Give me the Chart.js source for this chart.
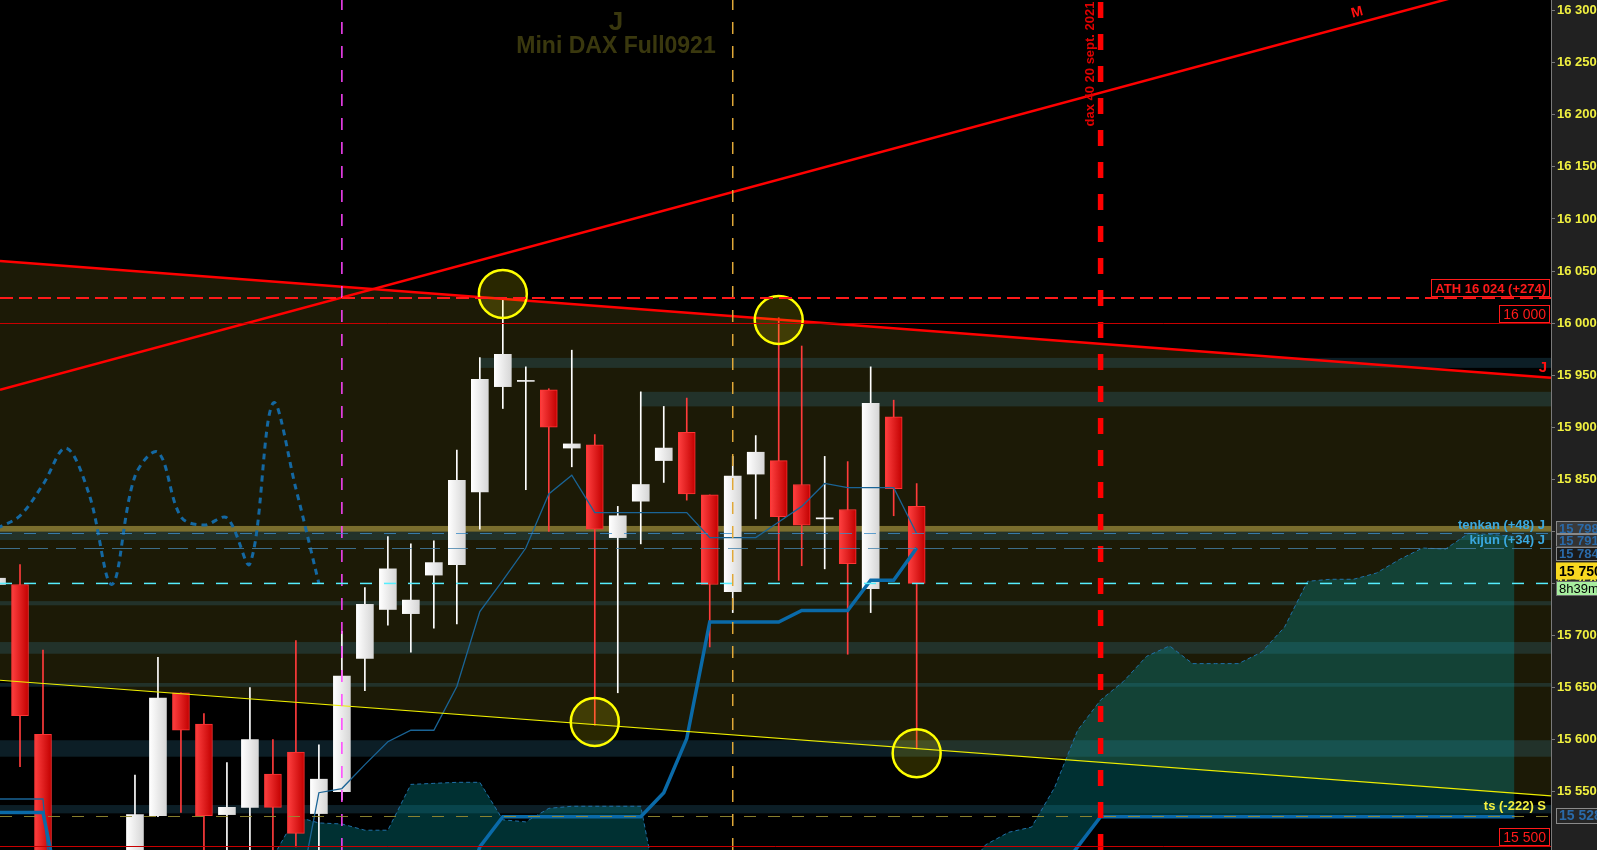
<!DOCTYPE html>
<html>
<head>
<meta charset="utf-8">
<title>Mini DAX Full0921</title>
<script src="https://cdn.jsdelivr.net/npm/chart.js@4.4.1/dist/chart.umd.min.js"></script>
<style>
    html, body { margin: 0; padding: 0; background: #212121; overflow: hidden; }
    canvas { display: block; }
</style>
</head>
<body>
<canvas id="chart" width="1597" height="850"></canvas>
<script>
// ---- data ----
// candle index, 0 = first full candle on the left edge
const candleIdx = [-1, 0, 1, 2, 3, 4, 5, 6, 7, 8, 9, 10, 11, 12, 13, 14, 15, 16, 17, 18, 19,
    20, 21, 22, 23, 24, 25, 26, 27, 28, 29, 30, 31, 32, 33, 34, 35, 36, 37, 38, 39];
const opens  = [15749, 15749, 15605, 15460, 15420, 15455, 15440, 15527, 15645, 15615, 15528, 15535, 15567, 15588, 15529, 15550, 15678, 15725, 15721, 15758, 15768,
    15838, 15939, 15944, 15936, 15880, 15883, 15794, 15829, 15868, 15895, 15835, 15742, 15855, 15868, 15845, 15812, 15821, 15745, 15910, 15824];
const highs  = [15756, 15768, 15686, 15485, 15470, 15480, 15566, 15679, 15645, 15625, 15578, 15650, 15600, 15695, 15595, 15704, 15746, 15795, 15788, 15791, 15878,
    15967, 16024, 15958, 15937, 15974, 15893, 15824, 15934, 15920, 15928, 15835, 15872, 15892, 16005, 15978, 15872, 15867, 15958, 15926, 15846];
const lows   = [15745, 15574, 15430, 15400, 15390, 15410, 15425, 15526, 15530, 15480, 15470, 15480, 15485, 15497, 15480, 15542, 15647, 15710, 15684, 15707, 15711,
    15802, 15918, 15840, 15800, 15862, 15614, 15645, 15788, 15847, 15830, 15689, 15722, 15812, 15753, 15767, 15764, 15682, 15722, 15815, 15591];
const closes = [15755, 15623, 15460, 15420, 15455, 15440, 15528, 15640, 15609, 15527, 15535, 15600, 15535, 15510, 15562, 15661, 15730, 15764, 15734, 15770, 15849,
    15946, 15970, 15945, 15900, 15884, 15802, 15815, 15845, 15880, 15836, 15749, 15853, 15876, 15814, 15806, 15813, 15769, 15923, 15841, 15750];

// ichimoku
const tenkan = [15543, 15543, 15543, 15300, 15300, 15300, 15310, 15320, 15330, 15340, 15350, 15360, 15380, 15434, 15549, 15553, 15576, 15598, 15609, 15609, 15651,
    15723, 15753, 15784, 15836, 15854, 15818, 15818, 15818, 15818, 15818, 15794, 15794, 15794, 15809, 15824, 15846, 15842, 15842, 15842, 15798];
const kijun  = [15530, 15530, 15530, 15420, 15400, 15400, 15400, 15400, 15400, 15400, 15400, 15400, 15400, 15400, 15400, 15400, 15400, 15400, 15400, 15400, 15430,
    15497, 15526, 15526, 15526, 15526, 15526, 15526, 15526, 15549, 15601, 15713, 15713, 15713, 15713, 15724, 15724, 15724, 15753, 15753, 15784];
const chikouIdx = [-1, 0, 1, 2, 3, 4, 5, 6, 7, 8, 9, 10, 11, 12, 13];
const chikou = [15803, 15815, 15845, 15880, 15836, 15749, 15853, 15876, 15814, 15806, 15813, 15769, 15923, 15841, 15750];
const cloudIdx = [10, 11, 12, 13, 14, 15, 16, 17, 18, 19, 20, 21, 22, 23, 24, 25, 26, 27, 28, 29, 30, 31, 32, 33, 34, 35, 36, 37,
    38, 39, 40, 41, 42, 43, 44, 45, 46, 47, 48, 49, 50, 51, 52, 53, 54, 55, 56, 57, 58, 59, 60, 61, 62, 63, 64, 65];
const spanA = [15440, 15487, 15526, 15520, 15519, 15513, 15513, 15557, 15558, 15559, 15559, 15523, 15521, 15534, 15536, 15536, 15536, 15536, 15423, 15400, 15390, 15380, 15380, 15380, 15380, 15380, 15380, 15380,
    15380, 15390, 15420, 15470, 15499, 15511, 15516, 15554, 15609, 15638, 15656, 15680, 15690, 15673, 15673, 15673, 15684, 15708, 15752, 15754, 15754, 15760, 15773, 15784, 15783, 15798, 15797, 15795];
const spanB = [15370, 15370, 15370, 15370, 15370, 15370, 15370, 15370, 15370, 15370, 15370, 15370, 15370, 15370, 15370, 15370, 15370, 15370, 15370, 15370, 15370, 15370, 15370, 15370, 15370, 15370, 15370, 15370,
    15370, 15370, 15370, 15370, 15370, 15370, 15370, 15468, 15497, 15526, 15526, 15526, 15526, 15526, 15526, 15526, 15526, 15526, 15526, 15526, 15526, 15526, 15526, 15526, 15526, 15526, 15526, 15526];

// drawn objects: trend lines (two ends each), verticals, circles
const X_MIN = -0.87, X_MAX = 66.59;
const Y_MIN = 15494, Y_MAX = 16310.3;
const trendX = [X_MIN, X_MAX];
const trendM = [15936, 16338];
const trendJ = [16059.6, 15947.6];
const trendS = [15657, 15545.9];
const vLines = [14, 31, 47];
const circleIdx = [21, 33, 25, 39];
const circleVal = [16028, 16003, 15617, 15587];

// horizontal zones and levels
const bandFrom = [20, 27, X_MIN, X_MIN, X_MIN, X_MIN, X_MIN, X_MIN, X_MIN];
const bandLow  = [15957, 15920, 15799.7, 15791.7, 15729, 15682.5, 15650.8, 15583.6, 15529.2];
const bandHigh = [15966.6, 15934, 15805.2, 15799.7, 15733, 15693.7, 15654.4, 15599.4, 15537.2];
const levelVals = [16024, 16000, 15798, 15784, 15750, 15527, 15498];
const yTicks = [15550, 15600, 15650, 15700, 15750, 15800, 15850, 15900, 15950, 16000, 16050, 16100, 16150, 16200, 16250, 16300];

const ath = 16024;
const lastClose = 15750;
const tenkanNow = 15798, kijunNow = 15784, tsNow = 15528;
const axisTags = [15798, 15791, 15784, 15750, 15528];

// ---- styles ----
const FONT = "'Liberation Sans', Arial, sans-serif";
const BAND_COLOR = ['rgba(60,150,190,0.2)', 'rgba(60,150,190,0.2)', 'rgba(200,180,80,0.55)', 'rgba(60,150,190,0.2)',
    'rgba(60,150,190,0.2)', 'rgba(60,150,190,0.2)', 'rgba(60,150,190,0.2)', 'rgba(60,150,190,0.2)', 'rgba(60,150,190,0.2)'];
const LEVEL_STYLE = [
    { color: '#ff1a1a', width: 2, dash: [13, 6] },
    { color: '#c80000', width: 1, dash: [] },
    { color: 'rgba(60,140,200,0.8)', width: 1, dash: [12, 12] },
    { color: 'rgba(70,130,170,0.8)', width: 1, dash: [20, 8] },
    { color: '#55eeff', width: 1.5, dash: [12, 12] },
    { color: 'rgba(150,140,50,0.9)', width: 1, dash: [12, 12] },
    { color: '#c80000', width: 1, dash: [] }
];
const V_STYLE = [
    { color: '#ff44ff', width: 1.5, dash: [12, 12] },
    { color: '#e0a838', width: 1.5, dash: [12, 12] },
    { color: '#ff0000', width: 5.5, dash: [16, 16] }
];

const fmt = v => String(v).replace(/\B(?=(\d{3})+(?!\d))/g, ' ');
const pts = (xs, ys) => xs.map((x, i) => ({ x: x, y: ys[i] }));
const isUp = i => closes[i] >= opens[i];

// gradient body like the platform draws
const bodyFill = (c) => {
    if (c.type !== 'data') return '#ffffff';
    const i = c.dataIndex;
    const xs = c.chart.scales.x;
    const px = xs ? xs.getPixelForValue(candleIdx[i]) : NaN;
    if (!Number.isFinite(px)) return isUp(i) ? '#f2f2f2' : '#e01e1e';
    const g = c.chart.ctx.createLinearGradient(px - 8.5, 0, px + 8.5, 0);
    if (isUp(i)) {
        g.addColorStop(0, '#ffffff');
        g.addColorStop(1, '#d6d6d6');
    } else {
        g.addColorStop(0, '#ff4040');
        g.addColorStop(1, '#c20000');
    }
    return g;
};

const lineAt = (ys, idx) => ys[0] + (ys[1] - ys[0]) * (idx - trendX[0]) / (trendX[1] - trendX[0]);

const drawBands = (chart) => {
    const { ctx, chartArea: a, scales: { x, y } } = chart;
    ctx.save();
    ctx.beginPath();
    ctx.rect(a.left, a.top, a.right - a.left, a.bottom - a.top);
    ctx.clip();
    bandLow.forEach((lo, i) => {
        const y1 = y.getPixelForValue(bandHigh[i]);
        const y2 = y.getPixelForValue(lo);
        const x1 = Math.max(a.left, x.getPixelForValue(bandFrom[i]));
        ctx.fillStyle = BAND_COLOR[i];
        ctx.fillRect(x1, y1, a.right - x1, y2 - y1);
    });
    ctx.restore();
};

const boxLabel = (ctx, text, right, bottom, opts) => {
    ctx.font = opts.font;
    const w = ctx.measureText(text).width + 8;
    const h = 18;
    ctx.fillStyle = '#000';
    ctx.fillRect(right - w, bottom - h, w, h);
    ctx.strokeStyle = opts.color;
    ctx.lineWidth = 1;
    ctx.strokeRect(Math.round(right - w) + 0.5, Math.round(bottom - h) + 0.5, Math.round(w) - 1, h - 1);
    ctx.fillStyle = opts.color;
    ctx.textAlign = 'left';
    ctx.textBaseline = 'middle';
    ctx.fillText(text, right - w + 4, bottom - h / 2 + 1);
};

const decor = {
    id: 'decor',
    beforeDraw(chart) {
        const { ctx, chartArea: a } = chart;
        ctx.save();
        ctx.fillStyle = '#212121';
        ctx.fillRect(0, 0, chart.width, chart.height);
        ctx.fillStyle = '#000';
        ctx.fillRect(a.left, a.top, a.right - a.left, a.bottom - a.top);
        ctx.restore();
    },
    afterDatasetDraw(chart, args) {
        if (args.index === 0) drawBands(chart); // zones just over the channel fill
    },
    afterDatasetsDraw(chart) {
        const { ctx, chartArea: a, scales: { x, y } } = chart;
        ctx.save();
        ctx.beginPath();
        ctx.rect(a.left, a.top, a.right - a.left, a.bottom - a.top);
        ctx.clip();

        // horizontal levels
        levelVals.forEach((v, i) => {
            const s = LEVEL_STYLE[i];
            let py = y.getPixelForValue(v);
            if (s.width === 1) py = Math.round(py) + 0.5;
            ctx.strokeStyle = s.color;
            ctx.lineWidth = s.width;
            ctx.setLineDash(s.dash);
            ctx.beginPath();
            ctx.moveTo(a.left, py);
            ctx.lineTo(a.right, py);
            ctx.stroke();
        });
        ctx.setLineDash([]);

        // title
        ctx.fillStyle = '#3a380e';
        ctx.textAlign = 'center';
        ctx.textBaseline = 'alphabetic';
        ctx.font = 'bold 26px ' + FONT;
        ctx.fillText('J', 616, 30);
        ctx.font = 'bold 23px ' + FONT;
        ctx.fillText('Mini DAX Full0921', 616, 53);

        // M marker on the rising line
        const mIdx = x.getValueForPixel(1357);
        const mY = y.getPixelForValue(lineAt(trendM, mIdx)) - 11;
        ctx.save();
        ctx.translate(1357, mY);
        ctx.rotate(-0.265);
        ctx.fillStyle = '#ff1010';
        ctx.font = 'bold 14px ' + FONT;
        ctx.textAlign = 'center';
        ctx.textBaseline = 'middle';
        ctx.fillText('M', 0, 0);
        ctx.restore();

        // vertical date text
        ctx.save();
        ctx.translate(x.getPixelForValue(vLines[2]) - 10, 64);
        ctx.rotate(-Math.PI / 2);
        ctx.fillStyle = '#e00000';
        ctx.font = 'bold 13px ' + FONT;
        ctx.textAlign = 'center';
        ctx.textBaseline = 'middle';
        ctx.fillText('dax 40 20 sept. 2021', 0, 0);
        ctx.restore();

        // J marker at the right end of the falling line
        ctx.fillStyle = '#ff1010';
        ctx.font = 'bold 15px ' + FONT;
        ctx.textAlign = 'center';
        ctx.textBaseline = 'middle';
        ctx.fillText('J', 1543, y.getPixelForValue(trendJ[1]) - 10);

        // boxed levels on the right of the plot
        const r = a.right - 1;
        boxLabel(ctx, 'ATH ' + fmt(ath) + ' (+' + (ath - lastClose) + ')', r, y.getPixelForValue(levelVals[0]) - 1,
            { font: 'bold 13px ' + FONT, color: '#ff1a1a' });
        boxLabel(ctx, fmt(levelVals[1]), r, y.getPixelForValue(levelVals[1]),
            { font: '14px ' + FONT, color: '#ff1a1a' });
        boxLabel(ctx, fmt(15500), r, y.getPixelForValue(levelVals[6]),
            { font: '14px ' + FONT, color: '#ff1a1a' });

        // ichimoku tags
        ctx.textAlign = 'right';
        ctx.textBaseline = 'middle';
        ctx.font = 'bold 13px ' + FONT;
        ctx.fillStyle = '#3aa8e0';
        ctx.fillText('tenkan (+' + (tenkanNow - lastClose) + ') J', 1545, y.getPixelForValue(tenkanNow) - 8);
        ctx.fillText('kijun (+' + (kijunNow - lastClose) + ') J', 1545, y.getPixelForValue(kijunNow) - 8);
        ctx.fillStyle = '#f4f040';
        ctx.fillText('ts (' + (tsNow - lastClose) + ') S', 1546, y.getPixelForValue(tsNow) - 8);
        ctx.restore();
    },
    afterDraw(chart) {
        const { ctx, chartArea: a, scales: { y } } = chart;
        const left = a.right + 5;
        const tag = (text, cy, h, bg, border, color, font) => {
            ctx.fillStyle = bg;
            ctx.fillRect(left, cy - h / 2, 60, h);
            if (border) {
                ctx.strokeStyle = border;
                ctx.lineWidth = 1;
                ctx.strokeRect(left + 0.5, Math.round(cy - h / 2) + 0.5, 60, h - 1);
            }
            ctx.fillStyle = color;
            ctx.font = font;
            ctx.textAlign = 'left';
            ctx.textBaseline = 'middle';
            ctx.fillText(text, left + 3, cy + 1);
        };
        ctx.save();
        const bold = 'bold 13px ' + FONT;
        tag(fmt(axisTags[0]), y.getPixelForValue(axisTags[0]) - 5.5, 13, '#3a3a3a', '#8a8a8a', '#2a6aa8', bold);
        tag(fmt(axisTags[1]), y.getPixelForValue(axisTags[1]), 13, '#333333', '#8a8a8a', '#2a6aa8', bold);
        tag(fmt(axisTags[2]), y.getPixelForValue(axisTags[2]) + 5.5, 14, '#1a1a1a', '#8a8a8a', '#2a6aa8', bold);
        const cy = y.getPixelForValue(axisTags[3]);
        tag(fmt(axisTags[3]), cy - 12.5, 17, '#f8d820', null, '#000', 'bold 14px ' + FONT);
        tag('8h39m', cy + 5, 15, '#a8eea0', '#6a6a6a', '#000', '13px ' + FONT);
        tag(fmt(axisTags[4]), y.getPixelForValue(axisTags[4]) + 1, 16, '#262626', '#8a8a8a', '#2a6aa8', 'bold 14px ' + FONT);
        ctx.restore();
    }
};

const datasets = [
    // olive channel between the falling red line and the yellow line
    { type: 'line', label: 'channel', data: pts(trendX, trendJ), borderWidth: 0, pointRadius: 0,
      fill: '+1', backgroundColor: 'rgba(112,104,22,0.25)', order: 100 },
    { type: 'line', label: 'channel-low', data: pts(trendX, trendS), borderWidth: 0, pointRadius: 0,
      fill: false, order: 99 },
    // kumo
    { type: 'line', label: 'senkou A', data: pts(cloudIdx, spanA), borderColor: '#1f70a8', borderWidth: 1,
      borderDash: [4, 3], pointRadius: 0, fill: '+1', backgroundColor: 'rgba(0,160,165,0.3)', order: 90 },
    { type: 'line', label: 'senkou B', data: pts(cloudIdx, spanB), borderColor: '#0a68a8', borderWidth: 3.5,
      pointRadius: 0, fill: false, order: 89 },
    // candles
    { type: 'bar', label: 'wicks', data: candleIdx.map((x, i) => ({ x: x, y: [lows[i], highs[i]] })),
      barThickness: 1, grouped: false, borderWidth: 0,
      backgroundColor: candleIdx.map((x, i) => isUp(i) ? '#ffffff' : '#ff3b3b'), order: 60 },
    { type: 'bar', label: 'bodies', data: candleIdx.map((x, i) => ({ x: x, y: [opens[i], closes[i]] })),
      barThickness: 17, grouped: false, borderSkipped: false,
      backgroundColor: bodyFill,
      borderColor: (c) => (c.type === 'data' && !isUp(c.dataIndex)) ? '#ff3535' : 'rgba(0,0,0,0)',
      borderWidth: (c) => (c.type === 'data' && !isUp(c.dataIndex)) ? 1 : 0, order: 59 },
    // ichimoku lines
    { type: 'line', label: 'chikou', data: pts(chikouIdx, chikou), borderColor: '#1468a2', borderWidth: 3,
      borderDash: [6, 5], tension: 0.35, pointRadius: 0, fill: false, order: 55 },
    { type: 'line', label: 'tenkan', data: pts(candleIdx, tenkan), borderColor: '#1a6496', borderWidth: 1.3,
      pointRadius: 0, fill: false, order: 54 },
    { type: 'line', label: 'kijun', data: pts(candleIdx, kijun), borderColor: '#0a6aa8', borderWidth: 3.5,
      pointRadius: 0, fill: false, order: 53 },
    // trend lines
    { type: 'line', label: 'M', data: pts(trendX, trendM), borderColor: '#ff0000', borderWidth: 2.5,
      pointRadius: 0, fill: false, order: 50 },
    { type: 'line', label: 'J', data: pts(trendX, trendJ), borderColor: '#ff0000', borderWidth: 2.5,
      pointRadius: 0, fill: false, order: 50 },
    { type: 'line', label: 'S', data: pts(trendX, trendS), borderColor: '#eeee00', borderWidth: 1.2,
      pointRadius: 0, fill: false, order: 50 }
];

vLines.forEach((v, i) => {
    datasets.push({ type: 'line', label: 'v' + i, data: [{ x: v, y: Y_MIN }, { x: v, y: Y_MAX }],
        borderColor: V_STYLE[i].color, borderWidth: V_STYLE[i].width, borderDash: V_STYLE[i].dash,
        pointRadius: 0, fill: false, order: 45 });
});

datasets.push({ type: 'line', label: 'circles', data: pts(circleIdx, circleVal), showLine: false,
    pointRadius: 24, pointHoverRadius: 24, pointBorderWidth: 2.5, pointBorderColor: '#ffff00',
    pointBackgroundColor: 'rgba(255,240,0,0.16)', order: 40 });

const chart = new Chart(document.getElementById('chart'), {
    type: 'bar',
    data: { datasets: datasets },
    options: {
        responsive: false,
        animation: false,
        devicePixelRatio: 1,
        events: [],
        layout: { padding: 0, autoPadding: false },
        plugins: { legend: { display: false }, tooltip: { enabled: false } },
        scales: {
            x: { type: 'linear', min: X_MIN, max: X_MAX, display: false, offset: false },
            y: {
                type: 'linear', position: 'right', min: Y_MIN, max: Y_MAX, beginAtZero: false,
                afterBuildTicks: (s) => { s.ticks = yTicks.map(v => ({ value: v })); },
                afterFit: (s) => { s.width = 46; s.paddingTop = 0; s.paddingBottom = 0; },
                grid: { drawOnChartArea: false, drawTicks: true, tickLength: 4, color: '#7a7a7a' },
                border: { display: true, color: '#7a7a7a' },
                ticks: {
                    color: '#f0f040', padding: 2, autoSkip: false,
                    font: { family: FONT, size: 13, weight: 'bold' },
                    callback: (v) => fmt(v)
                }
            }
        }
    },
    plugins: [decor]
});
</script>
</body>
</html>
